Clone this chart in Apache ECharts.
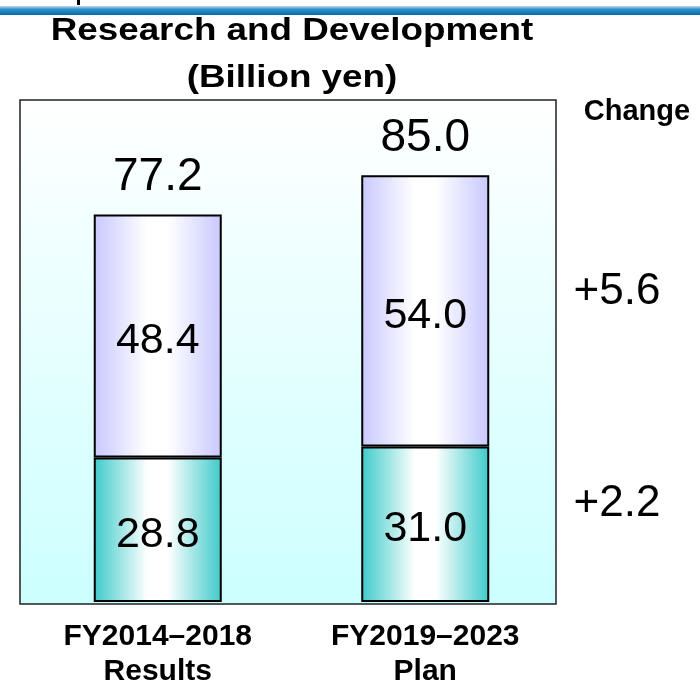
<!DOCTYPE html>
<html>
<head>
<meta charset="utf-8">
<script src="https://cdn.jsdelivr.net/npm/echarts@6/dist/echarts.min.js"></script>
<style>
  html, body { margin: 0; padding: 0; background: #fff; }
  #chart { width: 700px; height: 689px; }
</style>
</head>
<body>
<div id="chart"></div>
<script>
// data
const categories = ['FY2014\u20132018\nResults', 'FY2019\u20132023\nPlan']
const lowerValues = [28.8, 31.0]
const upperValues = [48.4, 54.0]
const totals = [77.2, 85.0]
const changeLabels = ['+5.6', '+2.2']

const FONT = '"Liberation Sans", Arial, sans-serif'

const chart = echarts.init(document.getElementById('chart'))

function hGrad(edge) {
  return new echarts.graphic.LinearGradient(0, 0, 1, 0, [
    { offset: 0, color: edge },
    { offset: 0.42, color: '#ffffff' },
    { offset: 0.58, color: '#ffffff' },
    { offset: 1, color: edge },
  ])
}

const segLabel = {
  show: true,
  position: 'inside',
  offset: [0, 5],
  fontFamily: FONT,
  fontSize: 43,
  color: '#000',
  formatter: (p) => p.value.toFixed(1),
}

chart.setOption({
  animation: false,
  graphic: [
    {
      type: 'rect',
      z: -10,
      shape: { x: 0, y: 6, width: 700, height: 9 },
      style: {
        fill: new echarts.graphic.LinearGradient(0, 0, 0, 1, [
          { offset: 0, color: '#c9dcea' },
          { offset: 0.35, color: '#2a95d0' },
          { offset: 1, color: '#0a6aa8' },
        ]),
      },
    },
    { type: 'rect', z: -10, shape: { x: 77, y: 0, width: 3, height: 5 }, style: { fill: '#000' } },
    {
      // title, a bit wider than plain Arial like the slide
      type: 'text', x: 292, y: 8, scaleX: 1.15,
      style: {
        text: 'Research and Development\n(Billion yen)',
        fontFamily: FONT, fontWeight: 'bold', fontSize: 32, lineHeight: 47,
        fill: '#000', align: 'center', verticalAlign: 'top',
      },
    },
    {
      type: 'rect',
      z: -5,
      shape: { x: 20, y: 100, width: 536, height: 504 },
      style: {
        fill: new echarts.graphic.LinearGradient(0, 0, 0, 1, [
          { offset: 0, color: '#ffffff' },
          { offset: 1, color: '#ccffff' },
        ]),
        stroke: '#222',
        lineWidth: 1.5,
      },
    },
    {
      type: 'text', x: 637, y: 112,
      style: { text: 'Change', fontFamily: FONT, fontWeight: 'bold', fontSize: 29, fill: '#000', align: 'center', verticalAlign: 'middle' },
    },
    {
      type: 'text', x: 617, y: 292,
      style: { text: changeLabels[0], fontFamily: FONT, fontSize: 44, fill: '#000', align: 'center', verticalAlign: 'middle' },
    },
    {
      type: 'text', x: 617, y: 504,
      style: { text: changeLabels[1], fontFamily: FONT, fontSize: 44, fill: '#000', align: 'center', verticalAlign: 'middle' },
    },
  ],
  grid: { left: 24, right: 141, top: 100, bottom: 85 },
  xAxis: {
    type: 'category',
    data: categories,
    axisLine: { show: false },
    axisTick: { show: false },
    axisLabel: {
      margin: 17,
      fontFamily: FONT,
      fontWeight: 'bold',
      fontSize: 30,
      lineHeight: 35,
      color: '#000',
    },
  },
  yAxis: {
    type: 'value',
    min: 0,
    max: 100,
    show: false,
  },
  series: [
    {
      name: 'lower',
      type: 'bar',
      stack: 'rd',
      barWidth: 128,
      barGap: '-100%',
      data: lowerValues,
      itemStyle: { color: hGrad('#3ecaca'), borderColor: '#000', borderWidth: 2 },
      label: segLabel,
    },
    {
      name: 'upper',
      type: 'bar',
      stack: 'rd',
      barWidth: 128,
      barGap: '-100%',
      data: upperValues,
      itemStyle: { color: hGrad('#c8c8ff'), borderColor: '#000', borderWidth: 2 },
      label: segLabel,
    },
    {
      name: 'total',
      type: 'bar',
      barWidth: 128,
      barGap: '-100%',
      z: 1,
      data: totals,
      itemStyle: { color: 'transparent' },
      label: {
        show: true,
        position: 'top',
        distance: 14,
        fontFamily: FONT,
        fontSize: 46,
        color: '#000',
        formatter: (p) => p.value.toFixed(1),
      },
    },
  ],
})
</script>
</body>
</html>
